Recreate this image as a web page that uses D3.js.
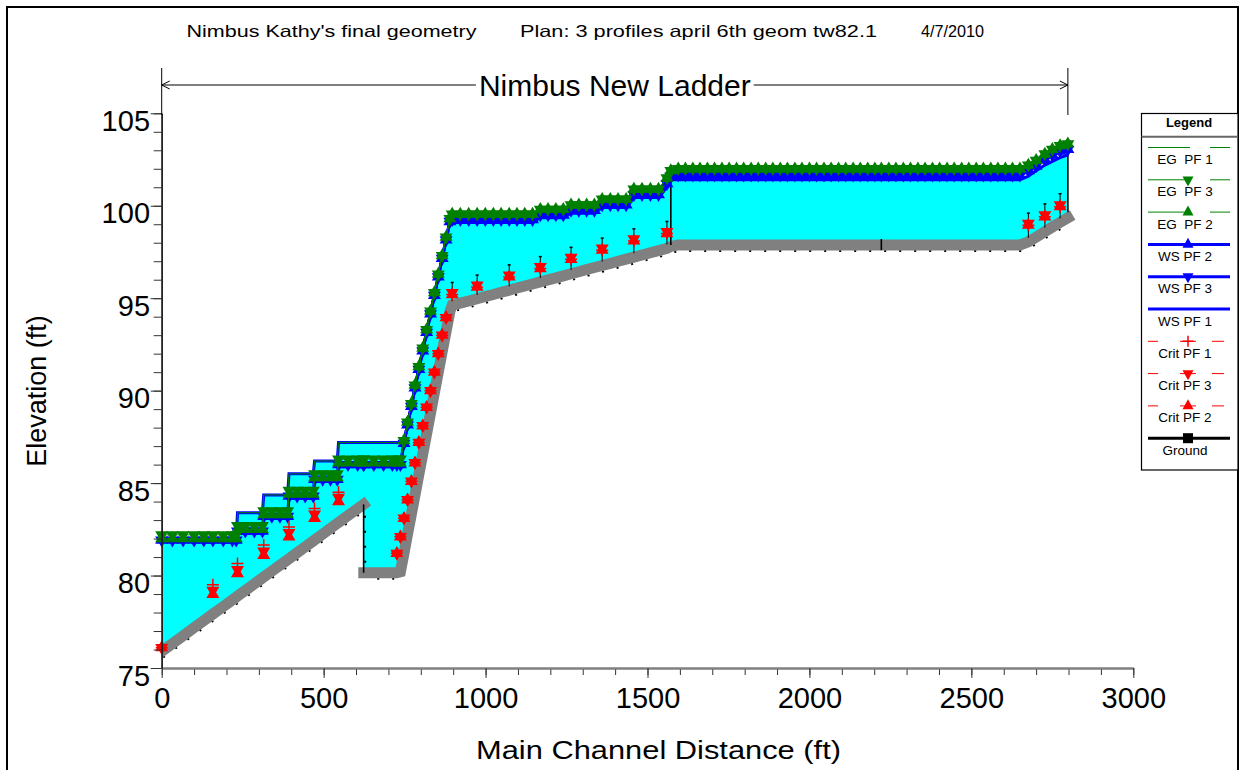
<!DOCTYPE html>
<html>
<head>
<meta charset="utf-8">
<script src="https://cdn.jsdelivr.net/npm/d3@7"></script>
<style>
  body { margin: 0; background: #fff; }
  text { font-family: Arial, "Liberation Sans", sans-serif; }
</style>
</head>
<body>
<div id="chart"></div>
<script>
// River stations (ft) of the cross sections
var station = [
  0, 33, 66, 100, 130, 158, 190, 218, 230,
  234, 258, 286, 311,
  315, 340, 365, 389,
  393, 418, 443, 468,
  472, 497, 521, 542,
  546, 575, 605, 623, 624, 655, 685, 712, 726, 737,
  748, 759, 771, 782, 794, 806, 818, 830, 842, 854, 866, 878, 890,
  897, 922, 948, 974, 999, 1024, 1048, 1073, 1097, 1121, 1145,
  1169, 1193, 1217, 1240,
  1264, 1288, 1312, 1336,
  1360, 1385, 1409, 1434,
  1458, 1483, 1509, 1534,
  1560, 1572,
  1595, 1617, 1640, 1662, 1685, 1707, 1730, 1752, 1775, 1797, 1820, 1842,
  1865, 1887, 1910, 1932, 1955, 1977, 2000, 2022, 2045, 2067, 2090, 2112,
  2135, 2157, 2180, 2202, 2222, 2245, 2267, 2290, 2312, 2335, 2357, 2380,
  2402, 2425, 2447, 2470, 2492, 2515, 2537, 2560, 2582, 2605, 2627, 2650,
  2676, 2700, 2727, 2750, 2774, 2798
];

var groundElev = [
  75.9, 76.32, 76.74, 77.18, 77.56, 77.92, 78.32, 78.68, 78.83,
  78.89, 79.19, 79.55, 79.87,
  79.92, 80.24, 80.56, 80.86,
  80.91, 81.23, 81.55, 81.87,
  81.92, 82.24, 82.55, 82.82,
  82.87, 83.24, 83.62, 83.85, 80.15, 80.15, 80.15, 80.15, 80.15, 80.2,
  81.2, 82.23, 83.33, 84.35, 85.46, 86.56, 87.67, 88.78, 89.89, 91.0, 92.1, 93.2, 94.3,
  94.62, 94.73, 94.85, 94.97, 95.09, 95.2, 95.32, 95.43, 95.55, 95.66, 95.77,
  95.88, 95.99, 96.1, 96.21,
  96.32, 96.43, 96.55, 96.66,
  96.77, 96.88, 97.0, 97.11,
  97.22, 97.34, 97.46, 97.57,
  97.69, 97.8,
  97.88, 97.88, 97.88, 97.88, 97.88, 97.88, 97.88, 97.88, 97.88, 97.88, 97.88, 97.88,
  97.88, 97.88, 97.88, 97.88, 97.88, 97.88, 97.88, 97.88, 97.88, 97.88, 97.88, 97.88,
  97.88, 97.88, 97.88, 97.88, 97.88, 97.88, 97.88, 97.88, 97.88, 97.88, 97.88, 97.88,
  97.88, 97.88, 97.88, 97.88, 97.88, 97.88, 97.88, 97.88, 97.88, 97.88, 97.88, 97.88,
  98.05, 98.3, 98.6, 98.85, 99.1, 99.35
];

var wsPF1 = [
  81.9, 81.9, 81.9, 81.9, 81.9, 81.9, 81.9, 81.9, 81.9,
  83.4, 83.4, 83.4, 83.4,
  84.36, 84.36, 84.36, 84.36,
  85.5, 85.5, 85.5, 85.5,
  86.2, 86.2, 86.2, 86.2,
  87.2, 87.2, 87.2, 87.2, 87.2, 87.2, 87.2, 87.2, 87.2, 87.2,
  87.2, 88.2, 89.2, 90.2, 91.2, 92.2, 93.2, 94.2, 95.2, 96.2, 97.2, 98.2, 99.2,
  99.1, 99.1, 99.1, 99.1, 99.1, 99.1, 99.1, 99.1, 99.1, 99.1, 99.1,
  99.35, 99.35, 99.35, 99.35,
  99.6, 99.6, 99.6, 99.6,
  99.9, 99.9, 99.9, 99.9,
  100.45, 100.45, 100.45, 100.45,
  101.0, 101.4,
  101.4, 101.4, 101.4, 101.4, 101.4, 101.4, 101.4, 101.4, 101.4, 101.4, 101.4, 101.4,
  101.4, 101.4, 101.4, 101.4, 101.4, 101.4, 101.4, 101.4, 101.4, 101.4, 101.4, 101.4,
  101.4, 101.4, 101.4, 101.4, 101.4, 101.4, 101.4, 101.4, 101.4, 101.4, 101.4, 101.4,
  101.4, 101.4, 101.4, 101.4, 101.4, 101.4, 101.4, 101.4, 101.4, 101.4, 101.4, 101.4,
  101.6, 101.9, 102.2, 102.4, 102.6, 102.75
];

var wsPF2 = [
  81.92, 81.92, 81.92, 81.92, 81.92, 81.92, 81.92, 81.92, 81.92,
  82.4, 82.4, 82.4, 82.4,
  83.2, 83.2, 83.2, 83.2,
  84.3, 84.3, 84.3, 84.3,
  85.2, 85.2, 85.2, 85.2,
  86.0, 86.0, 86.0, 86.0, 86.0, 86.0, 86.0, 86.0, 86.0, 86.0,
  87.15, 88.15, 89.15, 90.15, 91.15, 92.15, 93.15, 94.15, 95.15, 96.15, 97.15, 98.15, 99.15,
  99.25, 99.25, 99.25, 99.25, 99.25, 99.25, 99.25, 99.25, 99.25, 99.25, 99.25,
  99.5, 99.5, 99.5, 99.5,
  99.75, 99.75, 99.75, 99.75,
  100.05, 100.05, 100.05, 100.05,
  100.6, 100.6, 100.6, 100.6,
  101.2, 101.6,
  101.65, 101.65, 101.65, 101.65, 101.65, 101.65, 101.65, 101.65, 101.65, 101.65, 101.65, 101.65,
  101.65, 101.65, 101.65, 101.65, 101.65, 101.65, 101.65, 101.65, 101.65, 101.65, 101.65, 101.65,
  101.65, 101.65, 101.65, 101.65, 101.65, 101.65, 101.65, 101.65, 101.65, 101.65, 101.65, 101.65,
  101.65, 101.65, 101.65, 101.65, 101.65, 101.65, 101.65, 101.65, 101.65, 101.65, 101.65, 101.65,
  101.9, 102.15, 102.5, 102.75, 102.95, 103.05
];

var wsPF3 = [
  81.92, 81.92, 81.92, 81.92, 81.92, 81.92, 81.92, 81.92, 81.92,
  82.4, 82.4, 82.4, 82.4,
  83.2, 83.2, 83.2, 83.2,
  84.3, 84.3, 84.3, 84.3,
  85.2, 85.2, 85.2, 85.2,
  86.0, 86.0, 86.0, 86.0, 86.0, 86.0, 86.0, 86.0, 86.0, 86.0,
  87.15, 88.15, 89.15, 90.15, 91.15, 92.15, 93.15, 94.15, 95.15, 96.15, 97.15, 98.15, 99.15,
  99.25, 99.25, 99.25, 99.25, 99.25, 99.25, 99.25, 99.25, 99.25, 99.25, 99.25,
  99.5, 99.5, 99.5, 99.5,
  99.75, 99.75, 99.75, 99.75,
  100.05, 100.05, 100.05, 100.05,
  100.6, 100.6, 100.6, 100.6,
  101.2, 101.6,
  101.65, 101.65, 101.65, 101.65, 101.65, 101.65, 101.65, 101.65, 101.65, 101.65, 101.65, 101.65,
  101.65, 101.65, 101.65, 101.65, 101.65, 101.65, 101.65, 101.65, 101.65, 101.65, 101.65, 101.65,
  101.65, 101.65, 101.65, 101.65, 101.65, 101.65, 101.65, 101.65, 101.65, 101.65, 101.65, 101.65,
  101.65, 101.65, 101.65, 101.65, 101.65, 101.65, 101.65, 101.65, 101.65, 101.65, 101.65, 101.65,
  101.9, 102.15, 102.5, 102.75, 102.95, 103.05
];

var egPF1 = [
  81.9, 81.9, 81.9, 81.9, 81.9, 81.9, 81.9, 81.9, 81.9,
  83.4, 83.4, 83.4, 83.4,
  84.36, 84.36, 84.36, 84.36,
  85.5, 85.5, 85.5, 85.5,
  86.2, 86.2, 86.2, 86.2,
  87.2, 87.2, 87.2, 87.2, 87.2, 87.2, 87.2, 87.2, 87.2, 87.2,
  87.3, 88.3, 89.3, 90.3, 91.3, 92.3, 93.3, 94.3, 95.3, 96.3, 97.3, 98.3, 99.3,
  99.55, 99.55, 99.55, 99.55, 99.55, 99.55, 99.55, 99.55, 99.55, 99.55, 99.55,
  99.8, 99.8, 99.8, 99.8,
  100.05, 100.05, 100.05, 100.05,
  100.35, 100.35, 100.35, 100.35,
  100.9, 100.9, 100.9, 100.9,
  101.5, 101.9,
  102.0, 102.0, 102.0, 102.0, 102.0, 102.0, 102.0, 102.0, 102.0, 102.0, 102.0, 102.0,
  102.0, 102.0, 102.0, 102.0, 102.0, 102.0, 102.0, 102.0, 102.0, 102.0, 102.0, 102.0,
  102.0, 102.0, 102.0, 102.0, 102.0, 102.0, 102.0, 102.0, 102.0, 102.0, 102.0, 102.0,
  102.0, 102.0, 102.0, 102.0, 102.0, 102.0, 102.0, 102.0, 102.0, 102.0, 102.0, 102.0,
  102.2, 102.45, 102.8, 103.05, 103.25, 103.35
];

var egPF2 = [
  82.0, 82.0, 82.0, 82.0, 82.0, 82.0, 82.0, 82.0, 82.0,
  82.5, 82.5, 82.5, 82.5,
  83.3, 83.3, 83.3, 83.3,
  84.4, 84.4, 84.4, 84.4,
  85.3, 85.3, 85.3, 85.3,
  86.1, 86.1, 86.1, 86.1, 86.1, 86.1, 86.1, 86.1, 86.1, 86.1,
  87.3, 88.3, 89.3, 90.3, 91.3, 92.3, 93.3, 94.3, 95.3, 96.3, 97.3, 98.3, 99.3,
  99.55, 99.55, 99.55, 99.55, 99.55, 99.55, 99.55, 99.55, 99.55, 99.55, 99.55,
  99.8, 99.8, 99.8, 99.8,
  100.05, 100.05, 100.05, 100.05,
  100.35, 100.35, 100.35, 100.35,
  100.9, 100.9, 100.9, 100.9,
  101.5, 101.9,
  102.0, 102.0, 102.0, 102.0, 102.0, 102.0, 102.0, 102.0, 102.0, 102.0, 102.0, 102.0,
  102.0, 102.0, 102.0, 102.0, 102.0, 102.0, 102.0, 102.0, 102.0, 102.0, 102.0, 102.0,
  102.0, 102.0, 102.0, 102.0, 102.0, 102.0, 102.0, 102.0, 102.0, 102.0, 102.0, 102.0,
  102.0, 102.0, 102.0, 102.0, 102.0, 102.0, 102.0, 102.0, 102.0, 102.0, 102.0, 102.0,
  102.2, 102.45, 102.8, 103.05, 103.25, 103.35
];

var egPF3 = [
  82.2, 82.2, 82.2, 82.2, 82.2, 82.2, 82.2, 82.2, 82.2,
  82.7, 82.7, 82.7, 82.7,
  83.5, 83.5, 83.5, 83.5,
  84.6, 84.6, 84.6, 84.6,
  85.5, 85.5, 85.5, 85.5,
  86.3, 86.3, 86.3, 86.3, 86.3, 86.3, 86.3, 86.3, 86.3, 86.3,
  87.3, 88.3, 89.3, 90.3, 91.3, 92.3, 93.3, 94.3, 95.3, 96.3, 97.3, 98.3, 99.3,
  99.55, 99.55, 99.55, 99.55, 99.55, 99.55, 99.55, 99.55, 99.55, 99.55, 99.55,
  99.8, 99.8, 99.8, 99.8,
  100.05, 100.05, 100.05, 100.05,
  100.35, 100.35, 100.35, 100.35,
  100.9, 100.9, 100.9, 100.9,
  101.5, 101.9,
  102.0, 102.0, 102.0, 102.0, 102.0, 102.0, 102.0, 102.0, 102.0, 102.0, 102.0, 102.0,
  102.0, 102.0, 102.0, 102.0, 102.0, 102.0, 102.0, 102.0, 102.0, 102.0, 102.0, 102.0,
  102.0, 102.0, 102.0, 102.0, 102.0, 102.0, 102.0, 102.0, 102.0, 102.0, 102.0, 102.0,
  102.0, 102.0, 102.0, 102.0, 102.0, 102.0, 102.0, 102.0, 102.0, 102.0, 102.0, 102.0,
  102.2, 102.45, 102.8, 103.05, 103.25, 103.35
];

// critical depth is only shown where it was computed
var critStation = [
  0, 158, 234, 315, 393, 472, 546,
  726, 737, 748, 759, 771, 782, 794, 806, 818, 830, 842, 854, 866, 878,
  897, 974, 1073, 1169, 1264, 1360, 1458, 1560,
  2676, 2727, 2774
];
var critPF1 = [
  76.1, 79.5, 80.65, 81.65, 82.62, 83.62, 84.5,
  81.2, 82.1, 83.1, 84.1, 85.1, 86.1, 87.2, 88.1, 89.1, 90.0, 91.0, 92.0, 93.0, 93.95,
  95.2, 95.6, 96.15, 96.6, 97.1, 97.6, 98.1, 98.5,
  98.95, 99.4, 99.95
];
var critPF2 = [
  76.1, 78.98, 80.1, 81.1, 82.1, 83.1, 84.0,
  81.2, 82.1, 83.1, 84.1, 85.1, 86.1, 87.2, 88.1, 89.1, 90.0, 91.0, 92.0, 93.0, 93.95,
  95.2, 95.6, 96.15, 96.6, 97.1, 97.6, 98.1, 98.5,
  98.95, 99.4, 99.95
];
var critPF3 = [
  76.1, 79.2, 80.32, 81.32, 82.32, 83.32, 84.22,
  81.2, 82.1, 83.1, 84.1, 85.1, 86.1, 87.2, 88.1, 89.1, 90.0, 91.0, 92.0, 93.0, 93.95,
  95.3, 95.7, 96.25, 96.7, 97.2, 97.7, 98.2, 98.6,
  99.05, 99.5, 100.05
];

// weir crests and structure lines
var weirStation = [897, 974, 1073, 1169, 1264, 1360, 1458, 1560, 2676, 2727, 2774];
var weirTop = [95.85, 96.25, 96.8, 97.25, 97.75, 98.25, 98.75, 99.15, 99.6, 100.1, 100.65];
var structStation = [623.5, 1572, 2222, 2798];
var structBase = [80.15, 97.88, 97.6, 99.65];
var structTop = [83.85, 101.4, 98.2, 102.75];

var xTickLabels = [0, 500, 1000, 1500, 2000, 2500, 3000];
var yTickLabels = [75, 80, 85, 90, 95, 100, 105];

var legendNames = ["EG  PF 1", "EG  PF 3", "EG  PF 2", "WS PF 2", "WS PF 3", "WS PF 1",
                   "Crit PF 1", "Crit PF 3", "Crit PF 2", "Ground"];

var svgWidth = 1244;
var svgHeight = 770;

var green = "#008000", blue = "#0000ff", red = "#ff0000", cyan = "#00ffff", gray = "#808080";

var svg = d3.select("#chart")
  .append("svg")
  .attr("width", svgWidth)
  .attr("height", svgHeight);

svg.append("rect").attr("width", svgWidth).attr("height", svgHeight).attr("fill", "#fff");

// outer frame
svg.append("rect")
  .attr("x", 7).attr("y", 7)
  .attr("width", 1231).attr("height", 800)
  .attr("fill", "none").attr("stroke", "#000").attr("stroke-width", 2);

var x = d3.scaleLinear().domain([0, 3000]).range([161.7, 1133.3]);
var y = d3.scaleLinear().domain([75, 105]).range([668, 113.3]);

var rows = station.map(function(d, i) {
  return { d: d, g: groundElev[i], ws1: wsPF1[i], ws2: wsPF2[i], ws3: wsPF3[i],
           eg1: egPF1[i], eg2: egPF2[i], eg3: egPF3[i] };
});

svg.append("clipPath").attr("id", "plotClip")
  .append("rect").attr("x", 161.7).attr("y", 40).attr("width", 980).attr("height", 628);

var plot = svg.append("g").attr("clip-path", "url(#plotClip)");

// water (PF 1) fill
plot.append("path")
  .datum(rows)
  .attr("d", d3.area().x(d => x(d.d)).y0(d => y(d.g)).y1(d => y(d.ws1)))
  .attr("fill", cyan);

// ground: black line under a thick grey band
var lineOf = function(key) { return d3.line().x(d => x(d.d)).y(d => y(d[key])); };

plot.append("path")
  .datum(rows)
  .attr("d", lineOf("g"))
  .attr("transform", "translate(1.5,6)")
  .attr("fill", "none").attr("stroke", "#000").attr("stroke-width", 2)
  .attr("stroke-dasharray", "2 13");

// split the grey band wherever the ground drops vertically
var runs = [[rows[0]]];
for (var i = 1; i < rows.length; i++) {
  if (Math.abs(rows[i].d - rows[i - 1].d) < 2 && Math.abs(rows[i].g - rows[i - 1].g) > 1) runs.push([]);
  runs[runs.length - 1].push(rows[i]);
}
runs.forEach(function(run) {
  plot.append("path")
    .datum(run)
    .attr("d", lineOf("g"))
    .attr("fill", "none").attr("stroke", gray).attr("stroke-width", 11)
    .attr("stroke-linecap", "square");
});

// structure lines
structStation.forEach(function(s, i) {
  svg.append("line")
    .attr("x1", x(s)).attr("x2", x(s))
    .attr("y1", y(structBase[i])).attr("y2", y(structTop[i]))
    .attr("stroke", "#000").attr("stroke-width", 1.6);
});

// weir crests
weirStation.forEach(function(s, i) {
  var gi = station.indexOf(s);
  svg.append("line")
    .attr("x1", x(s)).attr("x2", x(s))
    .attr("y1", y(groundElev[gi]) - 4).attr("y2", y(weirTop[i]))
    .attr("stroke", "#000").attr("stroke-width", 1);
  svg.append("line")
    .attr("x1", x(s) - 1.5).attr("x2", x(s) + 1.5)
    .attr("y1", y(weirTop[i])).attr("y2", y(weirTop[i]))
    .attr("stroke", "#000").attr("stroke-width", 1.5);
});

// marker shapes (centred on centroid)
function triPath(up, w, h) {
  if (up) return "M0," + (-2 * h / 3) + "L" + (w / 2) + "," + (h / 3) + "L" + (-w / 2) + "," + (h / 3) + "Z";
  return "M0," + (2 * h / 3) + "L" + (w / 2) + "," + (-h / 3) + "L" + (-w / 2) + "," + (-h / 3) + "Z";
}
var triUp = triPath(true, 13, 11);
var triDown = triPath(false, 13, 11);
var legUp = triPath(true, 11, 10);
var legDown = triPath(false, 11, 10);

function drawMarkers(xs, ys, shape, color) {
  svg.append("g").selectAll("path")
    .data(xs.map((d, i) => [d, ys[i]]))
    .enter()
    .append("path")
    .attr("transform", p => `translate(${x(p[0])},${y(p[1])})`)
    .attr("d", shape)
    .attr("fill", color);
}

// water surface lines
["ws1", "ws2", "ws3"].forEach(function(k) {
  svg.append("path")
    .datum(rows)
    .attr("d", lineOf(k))
    .attr("fill", "none").attr("stroke", blue).attr("stroke-width", 3);
});
drawMarkers(station, wsPF3, triDown, blue);
drawMarkers(station, wsPF2, triUp, blue);

// energy grade lines
["eg1", "eg3", "eg2"].forEach(function(k) {
  svg.append("path")
    .datum(rows)
    .attr("d", lineOf(k))
    .attr("fill", "none").attr("stroke", green).attr("stroke-width", 1);
});
drawMarkers(station, egPF3, triDown, green);
drawMarkers(station, egPF2, triUp, green);

// critical depth
drawMarkers(critStation, critPF3, triDown, red);
drawMarkers(critStation, critPF2, triUp, red);
svg.append("g").selectAll("path")
  .data(critStation.map((d, i) => [d, critPF1[i]]))
  .enter()
  .append("path")
  .attr("transform", p => `translate(${x(p[0])},${y(p[1])})`)
  .attr("d", "M-6,0H6M0,-6V6")
  .attr("stroke", red).attr("stroke-width", 1.5).attr("fill", "none");

// axes
var xAxisMinor = svg.append("g")
  .attr("transform", "translate(0,668)")
  .call(d3.axisBottom(x).tickValues(d3.range(0, 3001, 100)).tickSize(7).tickSizeOuter(0).tickFormat(""));
var xAxis = svg.append("g")
  .attr("transform", "translate(0,668)")
  .call(d3.axisBottom(x).tickValues(xTickLabels).tickSize(10).tickSizeOuter(0).tickFormat(d3.format("d")));
xAxis.selectAll("text").attr("dy", null).attr("y", 40)
  .attr("font-size", "29px").attr("fill", "#000");

var yAxisMinor = svg.append("g")
  .attr("transform", "translate(161.7,0)")
  .call(d3.axisLeft(y).tickValues(d3.range(75, 106, 1)).tickSize(8).tickSizeOuter(0).tickFormat(""));
var yAxis = svg.append("g")
  .attr("transform", "translate(161.7,0)")
  .call(d3.axisLeft(y).tickValues(yTickLabels).tickSize(11).tickSizeOuter(0));
yAxis.selectAll("text").attr("dy", null).attr("y", 17).attr("x", -11.7)
  .attr("font-size", "29px").attr("fill", "#000");

svg.selectAll(".tick line").attr("stroke", "#333").attr("stroke-width", 1);
xAxis.select(".domain").attr("stroke", gray).attr("stroke-width", 2);
xAxisMinor.select(".domain").attr("stroke", gray).attr("stroke-width", 2);
yAxis.select(".domain").attr("stroke", "#222").attr("stroke-width", 1.5);
yAxisMinor.select(".domain").attr("stroke", "#222").attr("stroke-width", 1.5);

// axis titles
svg.append("text")
  .attr("x", 476).attr("y", 759)
  .attr("font-size", "26px")
  .attr("textLength", 365).attr("lengthAdjust", "spacingAndGlyphs")
  .text("Main Channel Distance (ft)");

svg.append("text")
  .attr("transform", "translate(46,391) rotate(-90)")
  .attr("text-anchor", "middle")
  .attr("font-size", "27px")
  .text("Elevation (ft)");

// title
var titleParts = [
  [186.5, "Nimbus Kathy's final geometry", 290],
  [520, "Plan: 3 profiles april 6th geom tw82.1", 357],
  [921, "4/7/2010", 63]
];
titleParts.forEach(function(t) {
  svg.append("text")
    .attr("x", t[0]).attr("y", 37)
    .attr("font-size", "16.5px")
    .attr("textLength", t[2]).attr("lengthAdjust", "spacingAndGlyphs")
    .text(t[1]);
});

// ladder annotation
var xa = x(station[0]), xb = x(station[station.length - 1]), ya = 85;
svg.append("line").attr("x1", xa).attr("x2", xa).attr("y1", 68).attr("y2", 115).attr("stroke", "#000");
svg.append("line").attr("x1", xb).attr("x2", xb).attr("y1", 68).attr("y2", 115).attr("stroke", "#000");
var ladderText = svg.append("text")
  .attr("x", (xa + xb) / 2).attr("y", 96)
  .attr("text-anchor", "middle")
  .attr("font-size", "30px")
  .text("Nimbus New Ladder");
var tw = ladderText.node().getComputedTextLength();
svg.append("line").attr("x1", xa).attr("x2", (xa + xb) / 2 - tw / 2 - 3).attr("y1", ya).attr("y2", ya).attr("stroke", "#000");
svg.append("line").attr("x1", (xa + xb) / 2 + tw / 2 + 3).attr("x2", xb).attr("y1", ya).attr("y2", ya).attr("stroke", "#000");
svg.append("path").attr("d", `M${xa + 8},${ya - 4}L${xa},${ya}L${xa + 8},${ya + 4}`)
  .attr("fill", "none").attr("stroke", "#000");
svg.append("path").attr("d", `M${xb - 8},${ya - 4}L${xb},${ya}L${xb - 8},${ya + 4}`)
  .attr("fill", "none").attr("stroke", "#000");

// legend
var lg = svg.append("g");
lg.append("rect")
  .attr("x", 1141.5).attr("y", 113.5).attr("width", 96.5).attr("height", 356.5)
  .attr("fill", "#fff").attr("stroke", "#000").attr("stroke-width", 1.2);
lg.append("line").attr("x1", 1141.5).attr("x2", 1238).attr("y1", 136.7).attr("y2", 136.7)
  .attr("stroke", "#666").attr("stroke-width", 2);
lg.append("text").attr("x", 1189).attr("y", 126.5)
  .attr("text-anchor", "middle").attr("font-size", "13px").attr("font-weight", "bold")
  .text("Legend");

var legendStyle = [
  { c: green, w: 1, segs: [[1148, 1190], [1210, 1230]], m: null },
  { c: green, w: 1, segs: [[1148, 1190], [1210, 1230]], m: legDown },
  { c: green, w: 1, segs: [[1148, 1190], [1210, 1230]], m: legUp },
  { c: blue, w: 3, segs: [[1148, 1230]], m: legUp },
  { c: blue, w: 3, segs: [[1148, 1230]], m: legDown },
  { c: blue, w: 3, segs: [[1148, 1230]], m: null },
  { c: red, w: 1, segs: [[1148, 1158], [1180, 1196], [1212, 1224]], m: "plus" },
  { c: red, w: 1, segs: [[1148, 1158], [1180, 1196], [1212, 1224]], m: legDown },
  { c: red, w: 1, segs: [[1148, 1158], [1180, 1196], [1212, 1224]], m: legUp },
  { c: "#000", w: 3, segs: [[1148, 1230]], m: "square" }
];

legendNames.forEach(function(name, i) {
  var ly = 147.5 + i * 32.3;
  var st = legendStyle[i];
  st.segs.forEach(function(s) {
    lg.append("line").attr("x1", s[0]).attr("x2", s[1]).attr("y1", ly).attr("y2", ly)
      .attr("stroke", st.c).attr("stroke-width", st.w);
  });
  if (st.m === "plus") {
    lg.append("path").attr("d", `M${1188 - 5.5},${ly}H${1188 + 5.5}M1188,${ly - 5.5}V${ly + 5.5}`)
      .attr("stroke", st.c).attr("stroke-width", 1.5);
  } else if (st.m === "square") {
    lg.append("rect").attr("x", 1188 - 5).attr("y", ly - 5).attr("width", 10).attr("height", 10)
      .attr("fill", "#000");
  } else if (st.m) {
    lg.append("path").attr("transform", `translate(1188,${ly})`).attr("d", st.m).attr("fill", st.c);
  }
  lg.append("text")
    .attr("x", 1185).attr("y", ly + 16.5)
    .attr("text-anchor", "middle").attr("font-size", "13.5px")
    .style("white-space", "pre")
    .text(name);
});
</script>
</body>
</html>
